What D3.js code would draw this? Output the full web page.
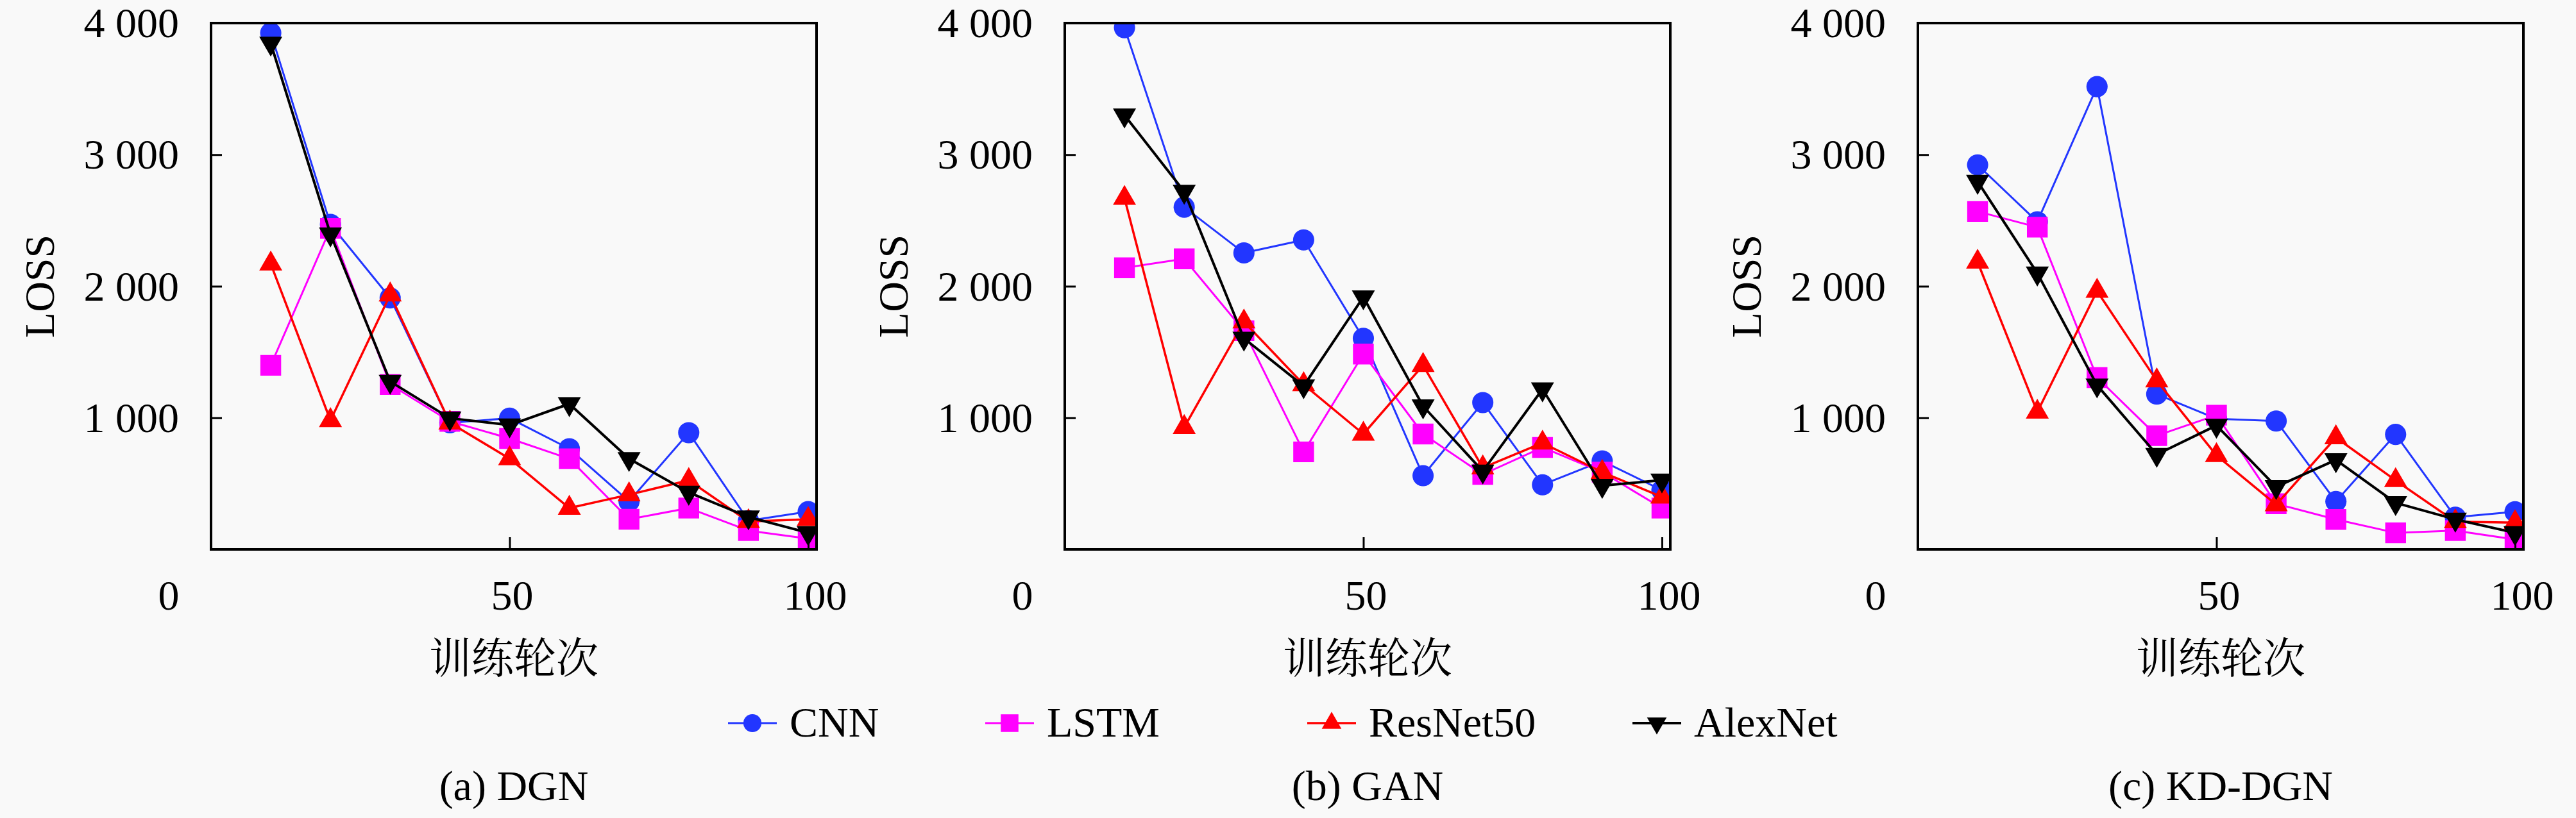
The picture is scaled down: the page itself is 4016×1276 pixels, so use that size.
<!DOCTYPE html>
<html>
<head>
<meta charset="utf-8">
<script src="https://cdn.jsdelivr.net/npm/d3@7"></script>
<style>
  html, body { margin: 0; padding: 0; background: #f9f9f9; }
  svg { display: block; }
</style>
</head>
<body>
<svg id="chart" width="4016" height="1276"></svg>
<script>
// ---------------- DATA ----------------
const epochs = [10, 20, 30, 40, 50, 60, 70, 80, 90, 100];
const seriesNames = ["CNN", "LSTM", "ResNet50", "AlexNet"];
const panelTitles = ["(a) DGN", "(b) GAN", "(c) KD-DGN"];
const yTicks = [1000, 2000, 3000, 4000];
const yTickLabels = ["1 000", "2 000", "3 000", "4 000"];
const xTicks = [0, 50, 100];
const xTickLabels = ["0", "50", "100"];
const yTitle = "LOSS";
const xTitle = "训练轮次";

// DGN
const dgnCNN      = [3925, 2470, 1911, 962, 997, 765, 365, 887, 218, 287];
const dgnLSTM     = [1399, 2440, 1253, 973, 843, 689, 229, 314, 143, 82];
const dgnResNet50 = [2170, 980, 1935, 962, 690, 314, 416, 525, 212, 229];
const dgnAlexNet  = [3846, 2396, 1276, 997, 945, 1106, 689, 433, 246, 126];
// GAN
const ganCNN      = [3965, 2601, 2253, 2352, 1604, 560, 1116, 491, 672, 450];
const ganLSTM     = [2140, 2208, 1662, 741, 1485, 877, 570, 775, 587, 314];
const ganResNet50 = [2669, 928, 1730, 1253, 877, 1399, 621, 809, 587, 399];
const ganAlexNet  = [3300, 2720, 1604, 1242, 1918, 1089, 594, 1218, 485, 526];
// KD-DGN
const kdCNN       = [2922, 2490, 3517, 1180, 993, 976, 364, 874, 245, 286];
const kdLSTM      = [2568, 2449, 1306, 864, 1020, 347, 228, 126, 143, 75];
const kdResNet50  = [2184, 1044, 1963, 1282, 714, 340, 850, 524, 211, 204];
const kdAlexNet   = [2796, 2099, 1248, 721, 942, 476, 680, 354, 228, 126];

const panelData = [
  [dgnCNN, dgnLSTM, dgnResNet50, dgnAlexNet],
  [ganCNN, ganLSTM, ganResNet50, ganAlexNet],
  [kdCNN, kdLSTM, kdResNet50, kdAlexNet]
];

// ---------------- STYLE ----------------
const colors = ["#2236ff", "#ff00ff", "#ff0000", "#000000"];
const lineWidths = [3, 3, 3.5, 4];
const serif = "'Liberation Serif', 'Times New Roman', serif";
const cjk = "'Noto Serif CJK SC', 'Noto Sans CJK SC', serif";
const fs = 66;

const panelLefts = [329, 1660, 2990];
const plotW = 944;
const plotTop = 36, plotBottom = 857;

const svg = d3.select("#chart");
svg.append("rect").attr("width", 4016).attr("height", 1276).attr("fill", "#f9f9f9");

function markerPath(i, scale) {
  const s = scale || 1;
  if (i === 0) return d3.symbol().type(d3.symbolCircle).size(860 * s * s)();
  if (i === 1) return d3.symbol().type(d3.symbolSquare).size(1050 * s * s)();
  return d3.symbol().type(d3.symbolTriangle).size(560 * s * s)();
}
function markerTransform(i) { return i === 3 ? " rotate(180)" : ""; }

const y = d3.scaleLinear().domain([0, 4000]).range([plotBottom, plotTop]);

panelData.forEach((series, p) => {
  const left = panelLefts[p];
  const x = d3.scaleLinear().domain([0, 101.4]).range([left, left + plotW]);
  const g = svg.append("g");
  const clipId = "clip" + p;
  svg.append("defs").append("clipPath").attr("id", clipId)
    .append("rect").attr("x", left).attr("y", plotTop)
    .attr("width", plotW).attr("height", plotBottom - plotTop);

  const plot = g.append("g").attr("clip-path", `url(#${clipId})`);
  const line = d3.line().x((d, i) => x(epochs[i])).y(d => y(d));

  series.forEach((vals, si) => {
    plot.append("path").datum(vals)
      .attr("d", line).attr("fill", "none")
      .attr("stroke", colors[si]).attr("stroke-width", lineWidths[si])
      .attr("stroke-linejoin", "round");
    plot.selectAll(null).data(vals).enter().append("path")
      .attr("d", markerPath(si))
      .attr("transform", (d, i) => `translate(${x(epochs[i])},${y(d)})` + markerTransform(si))
      .attr("fill", colors[si]);
  });

  // y axis ticks inward
  const yAxis = d3.axisRight(y).tickValues(yTicks).tickSize(17).tickFormat("");
  const ya = g.append("g").attr("transform", `translate(${left},0)`).call(yAxis);
  ya.select(".domain").remove();
  ya.selectAll("line").attr("stroke", "#000").attr("stroke-width", 3);
  // y tick labels
  g.selectAll(null).data(yTicks).enter().append("text")
    .attr("x", left - 50).attr("y", d => y(d) + 22)
    .attr("text-anchor", "end")
    .attr("font-family", serif).attr("font-size", fs).attr("fill", "#000")
    .text((d, i) => yTickLabels[i]);

  // x axis ticks inward
  const xAxis = d3.axisTop(x).tickValues([50, 100]).tickSize(19).tickFormat("");
  const xa = g.append("g").attr("transform", `translate(0,${plotBottom})`).call(xAxis);
  xa.select(".domain").remove();
  xa.selectAll("line").attr("stroke", "#000").attr("stroke-width", 3);
  const xOffsets = [-66, 4, 11];
  g.selectAll(null).data(xTicks).enter().append("text")
    .attr("x", (d, i) => x(d) + xOffsets[i]).attr("y", 951)
    .attr("text-anchor", "middle")
    .attr("font-family", serif).attr("font-size", fs).attr("fill", "#000")
    .text((d, i) => xTickLabels[i]);

  // frame
  g.append("rect").attr("x", left).attr("y", plotTop)
    .attr("width", plotW).attr("height", plotBottom - plotTop)
    .attr("fill", "none").attr("stroke", "#000").attr("stroke-width", 4);

  // axis titles
  g.append("text")
    .attr("transform", `translate(${left - 245},${(plotTop + plotBottom) / 2}) rotate(-90)`)
    .attr("text-anchor", "middle")
    .attr("font-family", serif).attr("font-size", fs).attr("fill", "#000")
    .text(yTitle);
  g.append("text")
    .attr("x", left + plotW / 2).attr("y", 1050)
    .attr("text-anchor", "middle")
    .attr("font-family", cjk).attr("font-size", 66).attr("fill", "#000")
    .text(xTitle);

  // caption
  g.append("text")
    .attr("x", left + plotW / 2).attr("y", 1248)
    .attr("text-anchor", "middle")
    .attr("font-family", serif).attr("font-size", fs).attr("fill", "#000")
    .text(panelTitles[p]);
});

// legend
const legendX = [1173, 1574, 2076, 2583];
const legendY = 1128;
const leg = svg.append("g");
seriesNames.forEach((name, i) => {
  const lx = legendX[i];
  leg.append("line").attr("x1", lx - 38).attr("x2", lx + 38)
    .attr("y1", legendY).attr("y2", legendY)
    .attr("stroke", colors[i]).attr("stroke-width", lineWidths[i]);
  leg.append("path").attr("d", markerPath(i, 0.85))
    .attr("transform", `translate(${lx},${legendY})` + markerTransform(i))
    .attr("fill", colors[i]);
  leg.append("text").attr("x", lx + 58).attr("y", 1149)
    .attr("font-family", serif).attr("font-size", fs).attr("fill", "#000")
    .text(name);
});
</script>
</body>
</html>
